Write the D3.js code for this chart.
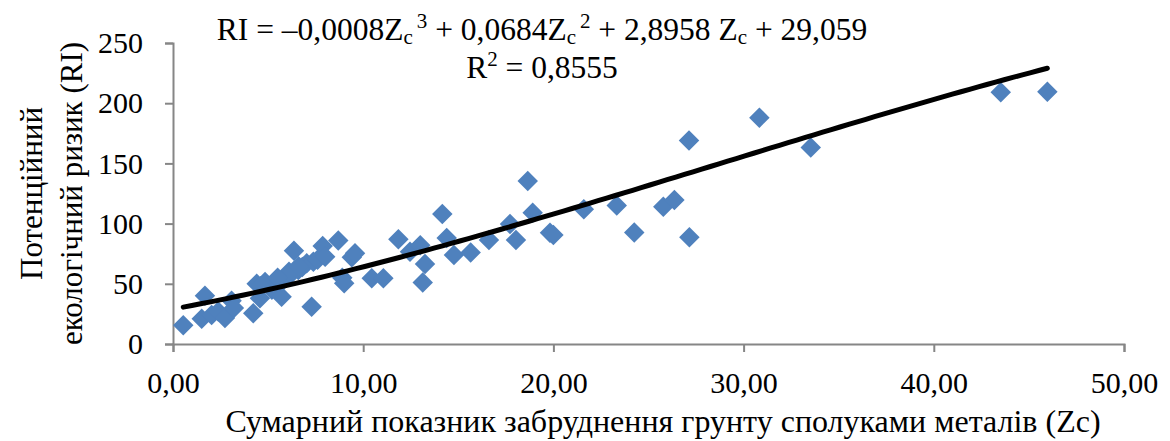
<!DOCTYPE html>
<html>
<head>
<meta charset="utf-8">
<script src="https://cdn.jsdelivr.net/npm/d3@7"></script>
<style>
  body { margin: 0; background: #fff; }
  svg text { font-family: "Times New Roman", "Liberation Serif", "DejaVu Serif", serif; fill: #000; }
</style>
</head>
<body>
<div class="canvas"></div>
<script>
// Zc values (x) and RI values (y)
const zcValues = [0.54, 1.51, 1.68, 2.03, 2.38, 2.73, 3.08, 3.2, 4.22, 4.4, 4.57, 4.84,
  5.2, 5.45, 5.71, 5.71, 5.97, 6.15, 6.36, 6.59, 6.8, 7.03, 7.29, 7.38, 7.6, 7.87, 8.0,
  8.69, 8.9, 9.0, 9.4, 9.57, 10.45, 11.06, 11.85, 12.46, 13.0, 13.25, 13.13, 14.16, 14.39,
  14.77, 15.65, 16.61, 17.72, 18.03, 18.65, 18.91, 19.82, 20.0, 21.6, 23.33, 24.25, 25.78,
  26.36, 27.13, 27.15, 30.83, 33.53, 43.52, 45.97, 6.1, 6.6, 5.5, 4.6];
const riValues = [15.5, 21, 40, 24, 27, 21.5, 36, 30, 25.5, 50, 38, 51.5,
  45, 47.5, 39.3, 51.7, 57, 57.3, 77.5, 61.5, 64, 67, 31, 68.4, 70, 81.4, 72.5,
  86, 55, 50.5, 72, 75.3, 54.6, 54.6, 87, 76.7, 82, 66.5, 51, 108, 88,
  74, 76, 86.4, 99.7, 86.4, 135.4, 109, 92.5, 90.5, 112, 115, 92.7, 114,
  119.6, 169, 88.6, 188, 163.3, 209, 209.5, 60, 64.5, 55, 48];

const xTicks = [0, 10, 20, 30, 40, 50];
const yTicks = [0, 50, 100, 150, 200, 250];
// trendline coefficients from the label: a3, a2, a1, a0
const trendCoef = [-0.0008, 0.0684, 2.8958, 29.059];

const width = 1170, height = 441;
const margin = { top: 43, right: 46, bottom: 97, left: 173 };
const serif = '"Times New Roman", "Liberation Serif", "DejaVu Serif", serif';

const svg = d3.select('.canvas')
  .append('svg')
  .attr('width', width)
  .attr('height', height);

const x = d3.scaleLinear().domain([0, 50]).range([margin.left, width - margin.right]);
const y = d3.scaleLinear().domain([0, 250]).range([height - margin.bottom, margin.top]);

const axisColor = '#868686';

// x axis
const xAxis = svg.append('g')
  .attr('transform', `translate(0, ${y(0)})`)
  .call(d3.axisBottom(x).tickValues(xTicks).tickSize(8).tickPadding(20)
    .tickFormat(d => d3.format('.2f')(d).replace('.', ',')));
xAxis.attr('font-family', serif);
xAxis.select('.domain').attr('stroke', axisColor).attr('stroke-width', 2);
xAxis.selectAll('.tick line').attr('stroke', axisColor).attr('stroke-width', 2);
xAxis.selectAll('.tick text')
  .attr('font-size', 30)
  .attr('fill', '#000');

// y axis
const yAxis = svg.append('g')
  .attr('transform', `translate(${x(0)}, 0)`)
  .call(d3.axisLeft(y).tickValues(yTicks).tickSize(8).tickPadding(22));
yAxis.attr('font-family', serif);
yAxis.select('.domain').attr('stroke', axisColor).attr('stroke-width', 2);
yAxis.selectAll('.tick line').attr('stroke', axisColor).attr('stroke-width', 2);
yAxis.selectAll('.tick text')
  .attr('font-size', 30)
  .attr('fill', '#000');

// scatter points (rotated squares, Excel style)
const points = zcValues.map((z, i) => ({ z, ri: riValues[i] }));
const diamond = d3.symbol().type(d3.symbolSquare).size(210);
svg.append('g')
  .selectAll('path')
  .data(points)
  .enter()
  .append('path')
  .attr('d', diamond)
  .attr('fill', '#4F81BD')
  .attr('transform', d => `translate(${x(d.z)}, ${y(d.ri)}) rotate(45)`);

// polynomial trendline over the data range
const poly = z => ((trendCoef[0] * z + trendCoef[1]) * z + trendCoef[2]) * z + trendCoef[3];
const zMin = d3.min(zcValues), zMax = d3.max(zcValues);
const trend = d3.range(0, 101).map(i => zMin + (zMax - zMin) * i / 100);
svg.append('path')
  .datum(trend)
  .attr('fill', 'none')
  .attr('stroke', '#000')
  .attr('stroke-width', 5)
  .attr('stroke-linecap', 'round')
  .attr('d', d3.line().x(z => x(z)).y(z => y(poly(z))));

// equation label
const eqX = 542;
const eq = svg.append('text')
  .attr('x', eqX)
  .attr('y', 40)
  .attr('text-anchor', 'middle')
  .attr('font-size', 31.5);
const parts = [
  ['RI = –0,0008Z'], ['c', 'sub'], ['3', 'sup'],
  [' + 0,0684Z'], ['c', 'sub'], ['2', 'sup'],
  [' + 2,8958 Z'], ['c', 'sub'], [' + 29,059']
];
let shift = 0;
parts.forEach(([t, kind]) => {
  const target = kind === 'sub' ? 4 : kind === 'sup' ? -12 : 0;
  eq.append('tspan')
    .attr('dy', target - shift)
    .attr('font-size', kind ? 21 : 31.5)
    .attr('dx', kind === 'sup' ? 4 : 0)
    .text(t);
  shift = target;
});

const r2 = svg.append('text')
  .attr('x', eqX)
  .attr('y', 78)
  .attr('text-anchor', 'middle')
  .attr('font-size', 31.5);
r2.append('tspan').text('R');
r2.append('tspan').attr('dy', -12).attr('font-size', 21).text('2');
r2.append('tspan').attr('dy', 12).text(' = 0,8555');

// axis titles
svg.append('text')
  .attr('x', 663)
  .attr('y', 432)
  .attr('text-anchor', 'middle')
  .attr('font-size', 32)
  .text('Сумарний показник забруднення грунту сполуками металів (Zc)');

const yTitle = svg.append('text')
  .attr('transform', `translate(0, ${(y(0) + y(250)) / 2}) rotate(-90)`)
  .attr('text-anchor', 'middle')
  .attr('font-size', 31);
yTitle.append('tspan').attr('x', 0).attr('y', 42).text('Потенційний');
yTitle.append('tspan').attr('x', 0).attr('y', 82).text('екологічний ризик (RI)');
</script>
</body>
</html>
